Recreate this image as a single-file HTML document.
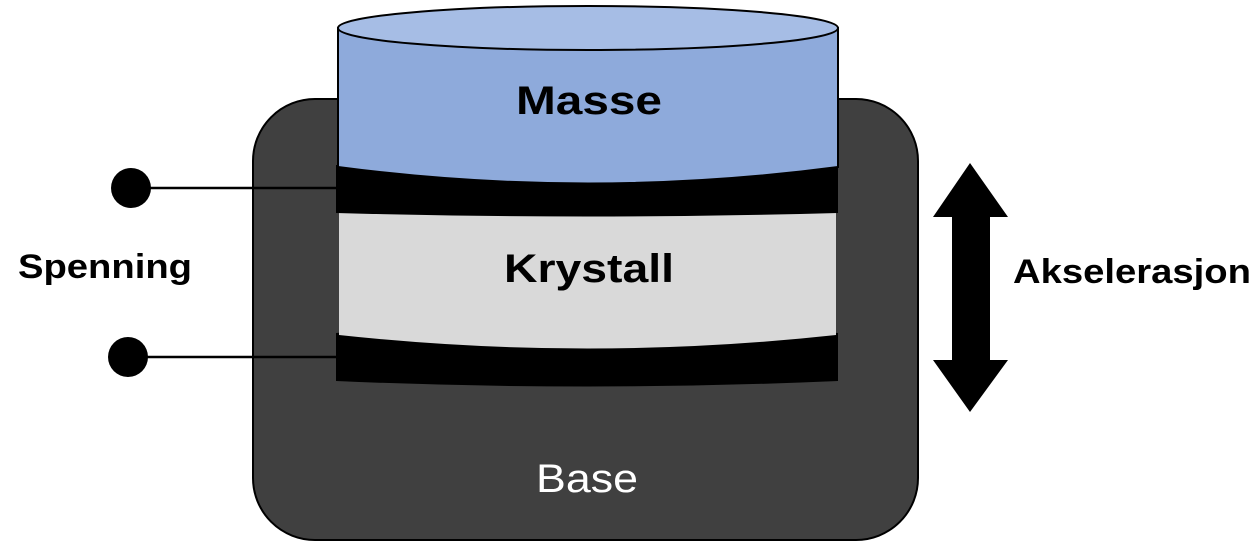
<!DOCTYPE html>
<html><head><style>html,body{margin:0;padding:0;background:#fff;}svg{display:block}</style></head>
<body>
<svg width="1254" height="545" viewBox="0 0 1254 545" xmlns="http://www.w3.org/2000/svg" font-family="'Liberation Sans', sans-serif">
<rect x="253" y="99" width="665" height="441" rx="62" fill="#404040" stroke="#000" stroke-width="2"/>
<path d="M336 333 Q588 312 838 333 L838 381 Q588 392 336 381 Z" fill="#000"/>
<path d="M339 213 L836 213 L836 335 Q588 362 339 335 Z" fill="#d9d9d9"/>
<path d="M336 165 L838 165 L838 213 Q588 220 336 213 Z" fill="#000"/>
<path d="M338 28 L838 28 L838 167 Q588 200 338 167 Z" fill="#8eaadb" stroke="#000" stroke-width="2"/>
<ellipse cx="588" cy="28" rx="250" ry="22" fill="#a6bde5" stroke="#000" stroke-width="2"/>
<line x1="131" y1="188" x2="338" y2="188" stroke="#000" stroke-width="2.5"/>
<line x1="128" y1="357" x2="338" y2="357" stroke="#000" stroke-width="2.5"/>
<circle cx="131" cy="188" r="20" fill="#000"/>
<circle cx="128" cy="357" r="20" fill="#000"/>
<path d="M970 163 L1008 217 L990 217 L990 360 L1008 360 L970 412 L933 360 L952 360 L952 217 L933 217 Z" fill="#000"/>
<text x="589" y="114" font-size="40" font-weight="bold" text-anchor="middle" textLength="146" lengthAdjust="spacingAndGlyphs">Masse</text>
<text x="589" y="282" font-size="40" font-weight="bold" text-anchor="middle" textLength="170" lengthAdjust="spacingAndGlyphs">Krystall</text>
<text x="587" y="492" font-size="40" fill="#fff" text-anchor="middle" textLength="102" lengthAdjust="spacingAndGlyphs">Base</text>
<text x="18" y="278" font-size="34" font-weight="bold" textLength="174" lengthAdjust="spacingAndGlyphs">Spenning</text>
<text x="1013" y="283" font-size="34" font-weight="bold" textLength="238" lengthAdjust="spacingAndGlyphs">Akselerasjon</text>
</svg>
</body></html>
